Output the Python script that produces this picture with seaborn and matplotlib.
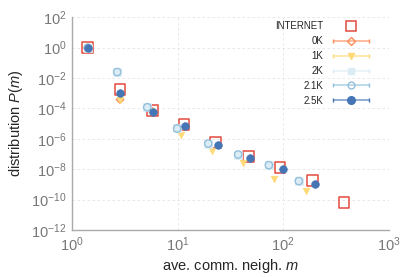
import numpy as np
import pandas as pd
import matplotlib
matplotlib.use("Agg")
import matplotlib.pyplot as plt
import matplotlib.ticker as mticker
from matplotlib.container import ErrorbarContainer
from matplotlib.legend_handler import HandlerErrorbar
import seaborn as sns

# data
internet_x = [1.41, 2.85, 5.75, 11.5, 23.0, 46.6, 93.0, 188.0, 377.0]
internet_y = [1.0, 1.7e-3, 7.2e-5, 8.7e-6, 5.7e-7, 7.2e-8, 1.26e-8, 1.85e-9, 6.3e-11]

k0_x = [1.41, 2.85, 5.75]
k0_y = [1.0, 3.8e-4, 6.5e-5]

k1_x = [1.41, 2.85, 5.6, 10.7, 21.2, 41.8, 82.0, 163.6]
k1_y = [1.0, 3.8e-4, 6.5e-5, 1.9e-6, 1.5e-7, 2.4e-8, 2.4e-9, 3.7e-10]

k21_x = [1.41, 2.68, 5.16, 9.9, 19.5, 37.4, 73.1, 140.5]
k21_y = [1.0, 2.5e-2, 1.2e-4, 4.8e-6, 4.9e-7, 9.3e-8, 1.85e-8, 1.66e-9]

k2_x = k21_x
k2_y = k21_y

k25_x = [1.43, 2.85, 5.88, 11.7, 24.2, 48.3, 99.8, 202.0]
k25_y = [1.0, 1.05e-3, 5.9e-5, 6.7e-6, 4.2e-7, 5.7e-8, 1.07e-8, 1.0e-9]

labels = ["INTERNET", "0K", "1K", "2K", "2.1K", "2.5K"]

sns.set_style("white")
plt.rcParams["font.family"] = ["Liberation Sans", "DejaVu Sans"]
plt.rcParams["mathtext.fontset"] = "custom"
plt.rcParams["mathtext.rm"] = "Liberation Sans"
plt.rcParams["mathtext.it"] = "Liberation Sans:italic"

fig = plt.figure(figsize=(4.15, 2.77), dpi=100)
ax = fig.add_axes([0.1735, 0.1697, 0.7635, 0.7678])

c_int = "#e34a40"
c0 = "#fc8d59"
c1 = "#fed976"
c2 = "#dcecf5"
c21 = "#91bfdb"
c25 = "#4575b4"

sns.scatterplot(x=internet_x, y=internet_y, marker="s", s=60, facecolor="none",
                edgecolor=c_int, linewidth=1.1, ax=ax, zorder=3)
sns.scatterplot(x=k0_x, y=k0_y, marker="D", s=14, facecolor="none",
                edgecolor=c0, linewidth=1.0, ax=ax, zorder=3)
sns.scatterplot(x=k1_x, y=k1_y, marker="v", s=22, color=c1,
                edgecolor=c1, linewidth=0.5, ax=ax, zorder=3)
sns.scatterplot(x=k2_x, y=k2_y, marker="s", s=30, color=c2,
                edgecolor=c2, linewidth=0.5, ax=ax, zorder=3)
sns.scatterplot(x=k21_x, y=k21_y, marker="o", s=28, facecolor="none",
                edgecolor=c21, linewidth=1.0, ax=ax, zorder=4)
sns.scatterplot(x=k25_x, y=k25_y, marker="o", s=30, color=c25,
                edgecolor=c25, linewidth=0.5, ax=ax, zorder=5)

# legend handles (invisible errorbars)
h_int = ax.errorbar([np.nan], [np.nan], fmt="s", ms=7, mfc="none", mec=c_int,
                    mew=1.1, label="INTERNET")
handles = [h_int]
for col, mk, mfc, ms in [(c0, "D", "none", 4),
                         (c1, "v", c1, 5),
                         (c2, "s", c2, 5),
                         (c21, "o", "none", 5),
                         (c25, "o", c25, 5.5)]:
    h = ax.errorbar([np.nan], [np.nan], xerr=[1], fmt=mk, ms=ms, mfc=mfc, mec=col,
                    color=col, ecolor=col, capsize=1.5, elinewidth=1.1)
    for ln in h.lines[2]:
        ln.set_alpha(0.75)
    handles.append(h)

ax.legend(handles=handles, labels=labels,
          loc="upper right", bbox_to_anchor=(0.968, 1.022), frameon=False,
          markerfirst=False, fontsize=7, handlelength=3.9, handletextpad=0.9,
          labelspacing=0.5,
          handler_map={ErrorbarContainer: HandlerErrorbar(xerr_size=1.85)})

ax.set_xscale("log")
ax.set_yscale("log")
ax.set_xlim(1, 1000)
ax.set_ylim(1e-12, 1e2)
ax.yaxis.set_major_locator(mticker.FixedLocator([10.0 ** e for e in range(-12, 3, 2)]))
ax.yaxis.set_minor_locator(mticker.FixedLocator([10.0 ** e for e in range(-11, 2, 2)]))
ax.yaxis.set_minor_formatter(mticker.NullFormatter())
ax.xaxis.set_minor_locator(mticker.LogLocator(base=10, subs=np.arange(2, 10), numticks=20))

ax.grid(True, which="major", linestyle=(0, (3, 3)), color="#e4e4e4", linewidth=0.6)
for s in ["top", "right"]:
    ax.spines[s].set_visible(False)
for s in ["left", "bottom"]:
    ax.spines[s].set_color("#aaaaaa")
    ax.spines[s].set_linewidth(1.0)

ax.tick_params(which="major", direction="in", length=4, width=0.8, color="#aaaaaa",
               labelsize=10.5, labelcolor="#777777", pad=4)
ax.tick_params(which="minor", direction="in", length=2, width=0.6, color="#aaaaaa")

ax.set_xlabel("ave. comm. neigh. $m$", fontsize=10.5, labelpad=2)
ax.set_ylabel("distribution $P(m)$", fontsize=10.5, labelpad=4)

fig.savefig("out.png", dpi=100)
